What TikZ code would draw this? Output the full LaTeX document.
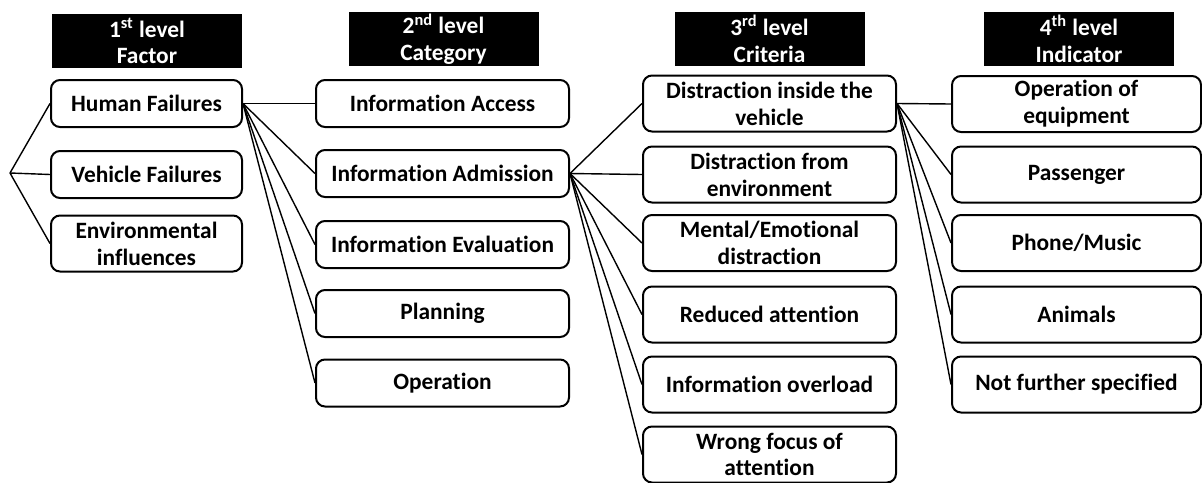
\documentclass[tikz,border=0pt]{standalone}
\usepackage{fontspec}
\setmainfont{Carlito}[Ligatures=NoCommon]
\usepackage{tikz}
\usetikzlibrary{positioning}

\tikzset{
  txt/.style={font=\fontsize{11.7}{13.4}\selectfont\bfseries, align=center, inner sep=0pt},
  head/.style={txt, fill=black, text=white, minimum width=95pt, minimum height=27pt},
  box/.style={txt, draw, line width=1pt, rounded corners=4.5pt, minimum height=23.5pt},
  tallbox/.style={box, minimum height=28pt},
  link/.style={line width=0.7pt}
}

\begin{document}
\begin{tikzpicture}[x=0.5pt,y=-0.5pt]
\useasboundingbox (0,0) rectangle (1202,482);

% 1st level
\node[head] (h1) at (147,41) {1\textsuperscript{st} level\\Factor};
\node[box, minimum width=95.5pt] (hum) at (146.5,103.5) {Human Failures};
\node[box, minimum width=95.5pt] (veh) at (146.5,174.5) {Vehicle Failures};
\node[tallbox, minimum width=95.5pt] (env) at (146.5,243.5) {Environmental\\influences};
\coordinate (root) at (10,173);

% 2nd level
\node[head] (h2) at (443.5,39) {2\textsuperscript{nd} level\\Category};
\node[box, minimum width=126.5pt] (acc) at (442.5,103.5) {Information Access};
\node[box, minimum width=126.5pt] (adm) at (442.5,173.5) {Information Admission};
\node[box, minimum width=126.5pt] (eva) at (442.5,244.5) {Information Evaluation};
\node[box, minimum width=126.5pt] (pla) at (442.5,313.5) {Planning};
\node[box, minimum width=126.5pt] (ope) at (442.5,383) {Operation};

% 3rd level
\node[head] (h3) at (769.5,39) {3\textsuperscript{rd} level\\Criteria};
\node[tallbox, minimum width=126.5pt] (din) at (769.5,103.5) {Distraction inside the\\vehicle};
\node[tallbox, minimum width=126.5pt] (den) at (769.5,174.5) {Distraction from\\environment};
\node[tallbox, minimum width=126.5pt] (men) at (769.5,243) {Mental/Emotional\\distraction};
\node[tallbox, minimum width=126.5pt] (red) at (769.5,314.5) {Reduced attention};
\node[tallbox, minimum width=126.5pt] (ove) at (769.5,384.5) {Information overload};
\node[tallbox, minimum width=126.5pt] (foc) at (769.5,454.5) {Wrong focus of\\attention};

% 4th level
\node[head] (h4) at (1079,39) {4\textsuperscript{th} level\\Indicator};
\node[tallbox, minimum width=124.5pt] (equ) at (1076.5,104) {Operation of\\equipment};
\node[tallbox, minimum width=124.5pt] (pas) at (1076.5,174.5) {Passenger};
\node[tallbox, minimum width=124.5pt] (pho) at (1076.5,243) {Phone/Music};
\node[tallbox, minimum width=124.5pt] (ani) at (1076.5,314.5) {Animals};
\node[tallbox, minimum width=124.5pt] (nfs) at (1076.5,384.5) {Not further specified};

% connectors
\foreach \n in {hum,veh,env}
  \draw[link] (root) -- (\n.west);
\foreach \n in {acc,adm,eva,pla,ope}
  \draw[link] (hum.east) -- (\n.west);
\foreach \n in {din,den,men,red,ove,foc}
  \draw[link] (adm.east) -- (\n.west);
\foreach \n in {equ,pas,pho,ani,nfs}
  \draw[link] (din.east) -- (\n.west);
\end{tikzpicture}
\end{document}
